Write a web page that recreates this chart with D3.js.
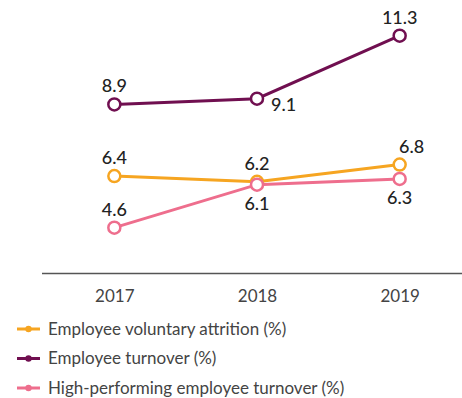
<!DOCTYPE html>
<html>
<head>
<meta charset="utf-8">
<script src="https://cdn.jsdelivr.net/npm/d3@7"></script>
<style>
  body { margin: 0; background: #fff; }
  text { font-family: Lato, "Open Sans", sans-serif; }
</style>
</head>
<body>
<div id="chart"></div>
<script>
// data
var years = ["2017", "2018", "2019"];
var attrition = [6.4, 6.2, 6.8];
var turnover = [8.9, 9.1, 11.3];
var highPerf = [4.6, 6.1, 6.3];
var seriesNames = ["Employee voluntary attrition (%)", "Employee turnover (%)", "High-performing employee turnover (%)"];

var width = 462, height = 398;

//////// SCALES ////////
var xScale = d3.scalePoint()
    .domain(years)
    .range([43, 471])
    .padding(0.5);

var yScale = d3.scaleLinear()
    .domain([3, 12])
    .range([273.5, 15.6]);

var colors = ["#f6a521", "#700f50", "#ee6e8d"];

// where each value label sits, relative to its point
var labelPos = [
    ["above", "above", "aboveRight"],
    ["above", "right", "above"],
    ["above", "below", "below"]
];

var series = [attrition, turnover, highPerf].map(function(vals, i) {
    return {
        name: seriesNames[i],
        color: colors[i],
        points: vals.map(function(v, j) { return {year: years[j], value: v, pos: labelPos[i][j]}; })
    };
});

//////// CANVAS ////////
var svg = d3.select("#chart").append("svg")
    .attr("width", width)
    .attr("height", height);

// x axis
var xAxis = svg.append("g")
    .attr("transform", "translate(0," + yScale(3) + ")")
    .call(d3.axisBottom(xScale).tickSize(0).tickPadding(16));
xAxis.select(".domain").remove();
xAxis.append("line")
    .attr("x1", 42).attr("x2", width)
    .attr("stroke", "#555").attr("stroke-width", 1.5);
xAxis.selectAll(".tick text")
    .attr("font-family", "Lato, sans-serif")
    .attr("font-size", 17)
    .attr("fill", "#444");

var line = d3.line()
    .x(function(d) { return xScale(d.year); })
    .y(function(d) { return yScale(d.value); });

// draw order: turnover, attrition, high-perf on top
var order = [1, 0, 2];
order.forEach(function(i) {
    var s = series[i];
    var g = svg.append("g");
    g.append("path")
        .datum(s.points)
        .attr("d", line)
        .attr("fill", "none")
        .attr("stroke", s.color)
        .attr("stroke-width", 3);
    g.selectAll("circle")
        .data(s.points)
        .enter().append("circle")
        .attr("cx", function(d) { return xScale(d.year); })
        .attr("cy", function(d) { return yScale(d.value); })
        .attr("r", 6)
        .attr("fill", "#fff")
        .attr("stroke", s.color)
        .attr("stroke-width", 2.5);
});

// value labels
series.forEach(function(s) {
    svg.append("g").selectAll("text")
        .data(s.points)
        .enter().append("text")
        .attr("x", function(d) {
            var x = xScale(d.year);
            if (d.pos == "right") return x + 14;
            if (d.pos == "aboveRight") return x + 12;
            return x;
        })
        .attr("y", function(d) {
            var y = yScale(d.value);
            if (d.pos == "below") return y + 25;
            if (d.pos == "right") return y + 12;
            return y - 12;
        })
        .attr("text-anchor", function(d) { return d.pos == "right" ? "start" : "middle"; })
        .attr("font-size", 18)
        .attr("font-weight", 500)
        .attr("fill", "#222")
        .text(function(d) { return d.value.toFixed(1); });
});

// legend
var legend = svg.append("g").selectAll("g")
    .data(series)
    .enter().append("g")
    .attr("transform", function(d, i) { return "translate(0," + (329 + i * 29.5) + ")"; });

legend.append("line")
    .attr("x1", 17).attr("x2", 40)
    .attr("stroke", function(d) { return d.color; })
    .attr("stroke-width", 3);
legend.append("circle")
    .attr("cx", 28.5).attr("r", 3.2)
    .attr("fill", function(d) { return d.color; });
legend.append("text")
    .attr("x", 48)
    .attr("dy", "0.35em")
    .attr("font-size", 17)
    .attr("fill", "#444")
    .text(function(d) { return d.name; });
</script>
</body>
</html>
